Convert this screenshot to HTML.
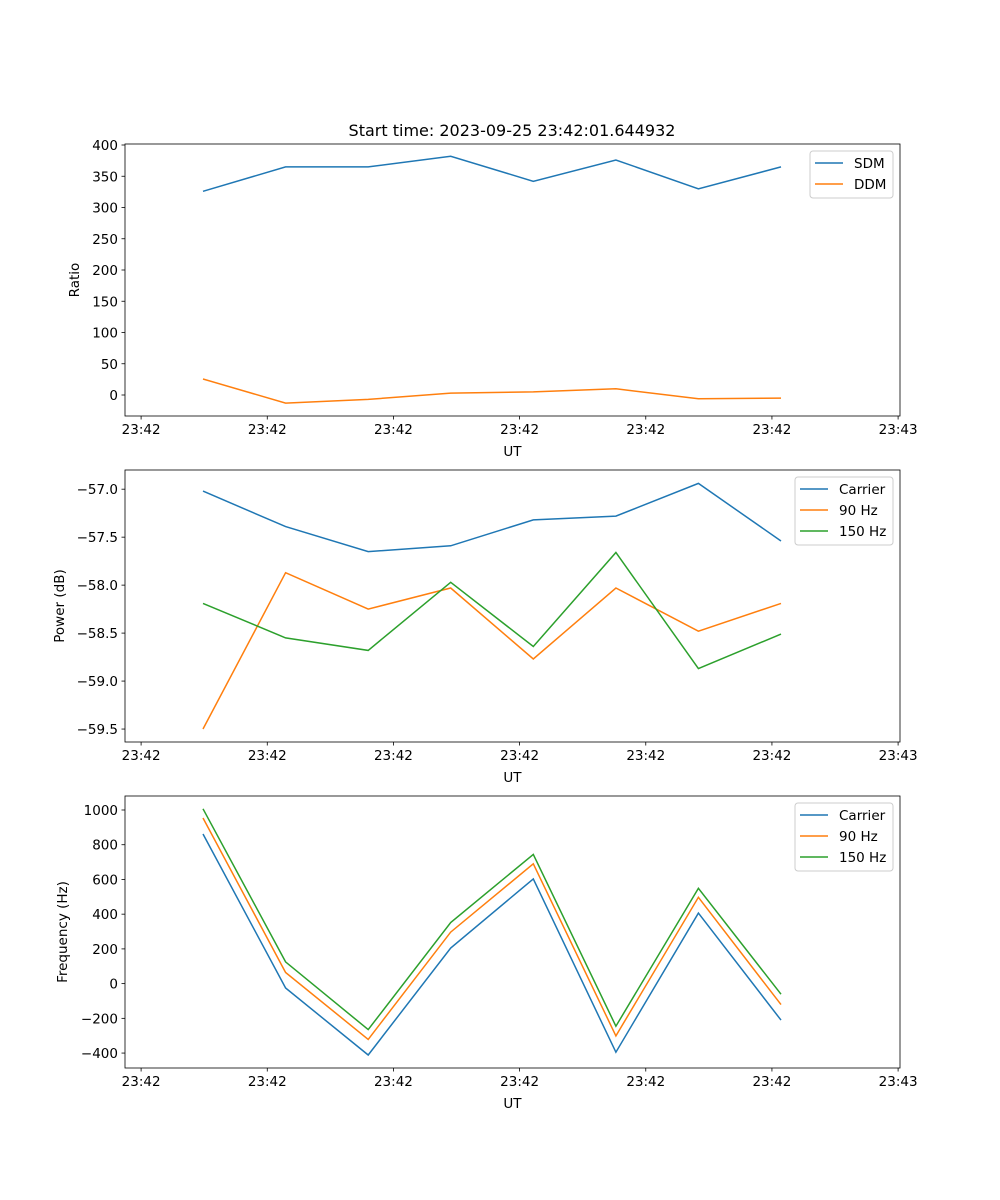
<!DOCTYPE html>
<html><head><meta charset="utf-8"><style>
body{margin:0;background:#fff}
svg{display:block;font-family:"DejaVu Sans","Liberation Sans",sans-serif}
</style></head><body>
<svg id="fig" width="1000" height="1200" xmlns="http://www.w3.org/2000/svg"></svg>
<script>
const times=[0,1,2,3,4,5,6,7];
const xTickVals=[-0.75,0.778,2.306,3.834,5.362,6.89,8.418];
const xTickLabels=["23:42","23:42","23:42","23:42","23:42","23:42","23:43"];
const sdm=[326,365,365,382,342,376,330,365];
const ddm=[25.6,-13,-7,3,5,10,-6,-5];
const pCarrier=[-57.02,-57.39,-57.65,-57.59,-57.32,-57.28,-56.94,-57.54];
const p90=[-59.50,-57.87,-58.25,-58.03,-58.77,-58.03,-58.48,-58.19];
const p150=[-58.19,-58.55,-58.68,-57.97,-58.64,-57.66,-58.87,-58.51];
const fCarrier=[862,-25,-411,205,603,-395,406,-210];
const f90=[954,64,-321,297,690,-301,497,-121];
const f150=[1007,125,-265,352,744,-245,549,-61];
const ticks1=[0,50,100,150,200,250,300,350,400];
const ticks2=[-59.5,-59.0,-58.5,-58.0,-57.5,-57.0];
const ticks3=[-400,-200,0,200,400,600,800,1000];
const C=["#1f77b4","#ff7f0e","#2ca02c"];
const NS="http://www.w3.org/2000/svg";
const svg=document.getElementById('fig');
function mk(tag,attrs,parent,text){const e=document.createElementNS(NS,tag);for(const k in attrs)e.setAttribute(k,attrs[k]);if(text!==undefined)e.textContent=text;(parent||svg).appendChild(e);return e;}
const L=125,R=900,xmin=-0.945,xmax=8.441;
function xs(t){return L+(t-xmin)/(xmax-xmin)*(R-L);}
function panel(name,top,bot,ymin,ymax,yticks,fmt,ylabel,series,legend){
 const g=mk('g',{}, svg);
 
 
 const ys=v=>bot-(v-ymin)/(ymax-ymin)*(bot-top);
 series.forEach((s,i)=>{
  const d=s.vals.map((v,j)=>(j?'L':'M')+xs(times[j]).toFixed(1)+','+ys(v).toFixed(1)).join(' ');
  const p=mk('path',{d:d,fill:'none',stroke:C[i],'stroke-width':1.5},g);
  
  
 });
 mk('rect',{x:L,y:top,width:R-L,height:bot-top,fill:'none',stroke:'#000','stroke-width':0.8},g);
 xTickVals.forEach((t,i)=>{const x=xs(t);mk('line',{x1:x,x2:x,y1:bot,y2:bot+3.5,stroke:'#000','stroke-width':0.8},g);
  const tx=mk('text',{x:x,y:bot+18,'font-size':13.5,'text-anchor':'middle'},g,xTickLabels[i]);
  });
 yticks.forEach(v=>{const y=ys(v);mk('line',{x1:L,x2:L-3.5,y1:y,y2:y,stroke:'#000','stroke-width':0.8},g);
  const tx=mk('text',{x:L-7,y:y+5,'font-size':13.5,'text-anchor':'end'},g,fmt(v));
  });
 const xl=mk('text',{x:(L+R)/2,y:bot+40,'font-size':13.5,'text-anchor':'middle'},g,'UT');
 
 const cy=(top+bot)/2;
 const yl=mk('text',{x:legend.ylx,y:cy,'font-size':13.5,'text-anchor':'middle',transform:`rotate(-90 ${legend.ylx} ${cy})`},g,ylabel);
 
 const lg=mk('g',{},g);
 
 
 const lh=series.length*21+5;
 mk('rect',{x:legend.x,y:top+7,width:893-legend.x,height:lh,rx:3,fill:'#fff',stroke:'#ccc','stroke-width':1},lg);
 series.forEach((s,i)=>{const y=top+19+i*21;
  mk('line',{x1:legend.x+5,x2:legend.x+33,y1:y,y2:y,stroke:C[i],'stroke-width':1.5},lg);
  const t=mk('text',{x:legend.x+44,y:y+5,'font-size':13.5},lg,s.label);
  });
}
const ti=mk('text',{x:512,y:136,'font-size':16,'text-anchor':'middle'},svg,'Start time: 2023-09-25 23:42:01.644932');

panel('ratio-panel',144,416,-33.6,401.6,ticks1,v=>String(v),'Ratio',
 [{key:'sdm',label:'SDM',vals:sdm},{key:'ddm',label:'DDM',vals:ddm}],{x:810,ylx:79});
panel('power-panel',470,742,-59.635,-56.80,ticks2,v=>v.toFixed(1).replace('-','\u2212'),'Power (dB)',
 [{key:'carrier',label:'Carrier',vals:pCarrier},{key:'90hz',label:'90 Hz',vals:p90},{key:'150hz',label:'150 Hz',vals:p150}],{x:795,ylx:64});
panel('frequency-panel',796,1068,-486,1080.6,ticks3,v=>String(v).replace('-','\u2212'),'Frequency (Hz)',
 [{key:'carrier',label:'Carrier',vals:fCarrier},{key:'90hz',label:'90 Hz',vals:f90},{key:'150hz',label:'150 Hz',vals:f150}],{x:795,ylx:67});
</script>
</body></html>
